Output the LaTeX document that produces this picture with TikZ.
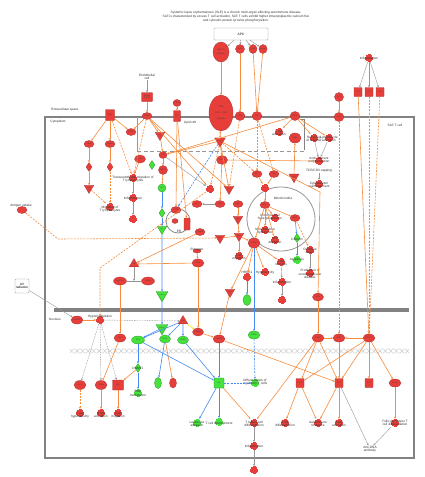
\documentclass[tikz,border=0pt]{standalone}
\usepackage{fontspec}
\setmainfont{Liberation Sans}
\usetikzlibrary{shapes.geometric,arrows.meta,calc}
\definecolor{nred}{RGB}{232,62,58}
\definecolor{nredd}{RGB}{165,50,50}
\definecolor{ngreen}{RGB}{70,225,60}
\definecolor{ngreend}{RGB}{40,150,40}
\definecolor{eor}{RGB}{246,140,60}
\definecolor{eblue}{RGB}{70,140,240}
\definecolor{egray}{RGB}{150,150,150}
\definecolor{mgray}{RGB}{130,130,130}
\begin{document}
\begin{tikzpicture}[x=1pt,y=-1pt,
  nbase/.style={inner sep=0, font=\fontsize{1.9}{2.1}\selectfont, text=black!75, line width=0.3pt, align=center},
  ell/.style={nbase, ellipse, fill=nred, draw=nredd, minimum width=10pt, minimum height=7pt},
  gell/.style={ell, fill=ngreen, draw=ngreend},
  sq/.style={nbase, rectangle, rounded corners=0.6pt, fill=nred, draw=nredd, minimum width=8pt, minimum height=9pt},
  gsq/.style={sq, fill=ngreen, draw=ngreend},
  itri/.style={nbase, font=\fontsize{1.4}{1.6}\selectfont, regular polygon, regular polygon sides=3, shape border rotate=180, fill=nred, draw=nredd, minimum size=11pt},
  gitri/.style={itri, fill=ngreen, draw=ngreend},
  tri/.style={nbase, font=\fontsize{1.4}{1.6}\selectfont, regular polygon, regular polygon sides=3, fill=nred, draw=nredd, minimum size=11pt},
  dia/.style={nbase, diamond, fill=nred, draw=nredd, minimum width=6pt, minimum height=9pt},
  gdia/.style={dia, fill=ngreen, draw=ngreend},
  gcirc/.style={nbase, circle, fill=ngreen, draw=ngreend, minimum size=8pt},
  fnshape/.style={path picture={
     \fill[#1] ([shift={(-1.5pt,-4pt)}]path picture bounding box.center) rectangle ([shift={(1.5pt,4pt)}]path picture bounding box.center);
     \fill[#1] ([shift={(-4pt,-1.5pt)}]path picture bounding box.center) rectangle ([shift={(4pt,1.5pt)}]path picture bounding box.center);
     \fill[#1] ([shift={(-2.6pt,-2.6pt)}]path picture bounding box.center) rectangle ([shift={(2.6pt,2.6pt)}]path picture bounding box.center);}},
  fn/.style={nbase, minimum size=8pt, fnshape=nred},
  fng/.style={nbase, minimum size=8pt, fnshape=ngreen},
  lab/.style={inner sep=0, font=\fontsize{3.2}{3.6}\selectfont, text=black!80, align=center},
  pbox/.style={draw=egray, fill=white, line width=0.4pt, rounded corners=0.8pt, font=\fontsize{3.2}{3.6}\selectfont, align=center, inner sep=0},
  tip/.style={-{Stealth[length=2.2pt,width=2pt]}},
  oa/.style={draw=eor, line width=0.6pt, tip},
  od/.style={oa, dash pattern=on 2pt off 1.2pt},
  ba/.style={draw=eblue, line width=0.6pt, tip},
  bd/.style={ba, dash pattern=on 2pt off 1.2pt},
  ga/.style={draw=egray, line width=0.4pt, tip},
  gd/.style={ga, dash pattern=on 1.5pt off 1pt}
]
\fill[white] (0,0) rectangle (424,477);
\useasboundingbox (0,0) rectangle (424,477);

% ---------- title ----------
\node[lab, font=\fontsize{3.2}{4.1}\selectfont] (title) at (236,17) {Systemic lupus erythematosus (SLE) is a chronic multi-organ affecting autoimmune disease.\\SLE is characterized by excess T cell activation, SLE T cells exhibit higher intracytoplasmic calcium flux\\and cytosolic protein tyrosine phosphorylation.};

% ---------- compartments ----------
\draw[mgray, line width=1.2pt] (45,117) rectangle (414,458);
\draw[egray, line width=0.8pt] (137,117) -- (137,151);
\draw[egray, line width=1pt, dash pattern=on 4pt off 2.5pt] (137,151) -- (304,151);
\draw[mgray, line width=0.5pt] (300,119) -- (304,119) -- (304,150);
\fill[mgray] (54,308) rectangle (409,312);
\draw[egray, line width=0.8pt] (281,219) ellipse [x radius=34, y radius=32];
\draw[mgray, line width=0.7pt] (178,221) circle [radius=12];
\draw[black!20, line width=0.5pt, domain=70:409, samples=500] plot (\x, {351+2.2*sin(32.7*\x)});
\draw[black!20, line width=0.5pt, domain=70:409, samples=500] plot (\x, {351-2.2*sin(32.7*\x)});

\node[lab] (Lext) at (65,110) {Extracellular space};
\node[lab] (Lcyt) at (58,122) {Cytoplasm};
\node[lab] (Lraft) at (190,123) {Lipid raft};
\node[lab] (Lsle) at (395,125) {SLE T cell};
\node[lab] (Lnuc) at (55,319) {Nucleus};
\node[lab] (Lmito) at (283,198) {Mitochondria};
\node[lab] (Ler) at (179,231) {ER};

% ---------- extracellular ----------
\node[pbox, minimum width=54pt, minimum height=12pt] (apc) at (241,34) {APC};
\node[ell, minimum width=16pt, minimum height=20pt, font=\fontsize{2.2}{2.6}\selectfont] (mhc) at (221,52) {MHC II\\[2pt]Antigen};
\node[ell, minimum width=9pt, minimum height=9pt] (a2) at (240,49) {CD80};
\node[ell, minimum width=8pt, minimum height=9pt] (a3) at (253,49) {CD58};
\node[ell, minimum width=8pt, minimum height=9pt] (a4) at (263,49) {ICAM1};
\node[lab] (endo) at (147,77) {Endothelial\\cell};
\node[sq, minimum width=11pt, minimum height=9pt] (e1) at (147,97) {ICAM1\\ICAM2};
\node[ell, minimum width=8pt, minimum height=7pt] (m3) at (177,103) {CD58};
\node[ell, minimum width=9pt, minimum height=9pt] (m8a) at (339,97) {IL2};
\node[fn] (infl1) at (369,58) {};
\node[lab] (Linfl1) at (369,58) {Inflammation};
\node[sq] (c1) at (358,92) {IL6};
\node[sq] (c2) at (369,92) {IL21};
\node[sq] (c3) at (380,92) {IL23};

% ---------- membrane ----------
\node[sq, minimum width=9pt, minimum height=11pt] (m1) at (110,115) {ITGAL};
\node[ell] (m2) at (147,116) {ITGB2};
\node[sq, minimum width=7pt, minimum height=11pt] (m4) at (177,116) {CD2};
\node[ell, minimum width=24pt, minimum height=36pt, font=\fontsize{2.3}{2.8}\selectfont] (tcr) at (221,113) {TCR\\[3pt]CD3\quad CD4\\[3pt]complex};
\node[ell, minimum height=9pt] (m5) at (240,116) {CD28};
\node[ell, minimum height=9pt] (m6) at (257,116) {CD2};
\node[ell, minimum height=9pt] (m7) at (295,116) {CD44};
\node[ell, minimum height=9pt] (m8) at (339,117) {IL2R};

% ---------- lipid raft / upper cytoplasm ----------
\node[ell] (p6) at (131,132) {ROCK};
\node[itri] (p10) at (160,135) {SYK};
\node[itri, minimum size=12pt] (tcrt) at (220,141) {CD247};
\node[fn] (lr1) at (279,132) {};
\node[lab] (Llr1) at (279,133) {T cell\\activation};
\node[ell, minimum width=12pt, minimum height=10pt] (lr2) at (295,138) {RAB4};
\node[fn] (lr3) at (314,138) {};
\node[lab] (Llr3) at (314,139) {Recycling\\of receptor};
\node[fn] (lr4) at (329,138) {};
\node[lab] (Llr4) at (329,139) {Lymphocyte\\activation};

\node[ell] (p1) at (89,144) {CD44};
\node[dia] (p2) at (89,167) {};
\node[itri] (p3) at (89,188) {PI3K};
\node[ell] (p4) at (110,144) {RHOA};
\node[dia] (p5) at (110,167) {};
\node[fn] (mig) at (110,207) {};
\node[lab] (Lmig) at (110,209) {Migration of\\T lymphocytes};
\node[ell, minimum width=11pt, minimum height=8pt] (p7) at (140,159) {PRKCD};
\node[gdia] (gd1) at (152,165) {};
\node[ell, minimum width=8pt] (p8) at (163,155) {LCK};
\node[ell, minimum width=9pt, minimum height=9pt] (p9) at (163,170) {ZAP70};
\node[gcirc] (gc1) at (162,188) {LAT};
\node[gdia] (gd2) at (162,213) {};
\node[gitri] (git1) at (162,229) {RAS};
\node[fn] (trans) at (133,178) {};
\node[lab] (Ltrans) at (133,179) {Transendothelial migration of\\T lymphocytes};
\node[fn] (infl2) at (133,198) {};
\node[lab] (Linfl2) at (133,198) {Inflammation};
\node[fn] (x1) at (133,219) {};

\node[ell, minimum width=11pt, minimum height=9pt] (ep) at (222,160) {PLCG1};
\node[fn] (fx) at (210,189) {};
\node[itri] (i1) at (229,189) {PI3K};
\node[ell] (e7) at (257,174) {AKT};
\node[ell] (e8) at (274,174) {PDK1};
\node[fn] (ab) at (265,188) {};
\node[fn] (act) at (319,161) {};
\node[lab] (Lact) at (319,160) {Actin filament\\polymerization};
\node[lab] (cap) at (319,171) {TCR/CD3 capping};
\node[fn] (cyt) at (319,184) {};
\node[lab] (Lcyt2) at (319,185) {Cytoskeleton\\rearrangement};
\node[itri] (lr5) at (294,177) {ROCK};

% ---------- ER / middle ----------
\node[ell] (e1a) at (176,210) {ITPR};
\node[ell, minimum width=6pt, minimum height=5pt] (e2) at (175,221) {};
\node[sq, minimum width=6pt, minimum height=12pt] (e3) at (187,224) {};
\node[ell] (e4) at (200,232) {CAMK4};
\node[ell] (r1) at (197,204) {AKT};
\node[ell] (r3) at (220,204) {RAS};
\node[ell] (r4) at (238,204) {RAF};
\node[itri] (i2) at (238,219) {MEK};
\node[itri] (i3) at (239,236) {ERK};
\node[fn] (mig2) at (239,256) {};
\node[lab] (Lmig2) at (239,257) {Cell\\migration};
\node[itri] (pk1) at (220,238) {PKC};
\node[ell, minimum width=12pt, minimum height=10pt] (mt) at (254,243) {mTOR};
\node[ell] (ant) at (22,210) {};
\node[lab] (Lant) at (21,206) {Antigen uptake};
\node[ell, minimum width=8pt, minimum height=4pt] (est) at (197,251) {};
\node[lab] (Lest) at (197,250) {Estrogen};
\node[ell, minimum width=12pt, minimum height=8pt] (es2) at (198,263) {ESR1};
\node[tri] (pp1) at (134,264) {PP2A};
\node[ell, minimum width=13pt, minimum height=8pt] (q1) at (120,281) {RASGRP1};
\node[ell, minimum width=13pt, minimum height=8pt] (q2) at (148,281) {CREM};
\coordinate (k4) at (134,281);
\node[gitri] (erk1) at (162,295) {ERK1/2};
\node[itri] (i4) at (230,292) {MEK};
\node[fn] (x7) at (247,277) {};
\node[lab] (Lx7) at (247,272) {HRES1};
\node[gell, minimum width=8pt, minimum height=11pt] (gx) at (247,300) {};

% mitochondria
\node[ell] (mt1) at (265,205) {BCL2};
\node[fn] (mh) at (275,218) {};
\node[lab] (Lmh) at (270,217) {Mitochondrial\\hyperpolarization};
\node[fn] (mh2) at (265,230) {};
\node[lab] (Lmh2) at (265,231) {Mitochondrial\\dysfunction};
\node[fn] (mh3) at (275,240) {};
\node[lab] (Lmh3) at (275,241) {ATP\\depletion};
\node[ell] (mp) at (295,218) {NOX};
\node[gdia] (ca) at (297,238) {};
\node[lab] (Lca) at (297,239) {Calcium};
\node[fng] (apo) at (297,260) {};
\node[lab] (Lapo) at (297,260) {Apoptosis};
\node[fn] (ox) at (310,250) {};
\node[lab] (Lox) at (310,251) {Oxidative\\stress};
\node[fn] (prod) at (310,273) {};
\node[lab] (Lprod) at (310,274) {Production of\\cerebrovascular\\disease};
\node[fn] (nec) at (281,262) {};
\node[lab] (Lnec) at (281,263) {T cell\\necrosis};
\node[fn] (hyp) at (265,272) {};
\node[lab] (Lhyp) at (265,273) {Hyperactivity};
\node[fn] (infl4) at (282,282) {};
\node[lab] (Linfl4) at (282,282) {Inflammation};
\node[fn] (fx4) at (282,300) {};
\node[ell, minimum width=11pt, minimum height=8pt] (u1) at (318,297) {IRF4};
\coordinate (k1) at (320,192);

% ---------- nucleus ----------
\node[pbox, minimum width=14pt, minimum height=14pt] (uv) at (22,286) {UV\\radiation};
\node[ell, minimum width=12pt, minimum height=8pt] (dm) at (77,320) {GADD45};
\node[fn] (hm) at (100,320) {};
\node[lab] (Lhm) at (100,317) {Hypomethylation};
\node[tri] (pp2) at (183,321) {PP2A};
\node[gitri] (erk2) at (162,328) {ERK1/2};
\node[ell, minimum width=12pt, minimum height=8pt] (q3) at (120,338) {SP1};
\node[gell, minimum width=13pt, minimum height=8pt] (ap1) at (138,340) {AP-1};
\node[gell, minimum width=11pt, minimum height=8pt] (elf) at (165,339) {ELF1};
\node[gell, minimum width=11pt, minimum height=8pt] (creb) at (183,340) {CREB};
\node[ell, minimum width=11pt, minimum height=8pt] (cd1) at (198,332) {CREMα};
\node[ell, minimum width=12pt, minimum height=8pt] (cd2) at (219,339) {NFATC2};
\node[gell, minimum width=12pt, minimum height=8pt] (crem) at (254,335) {CREM};
\node[ell, minimum width=12pt, minimum height=8pt] (n1) at (318,338) {RORC};
\node[ell, minimum width=12pt, minimum height=8pt] (n2) at (339,338) {IRF4};
\node[ell, minimum width=12pt, minimum height=8pt] (stat3) at (369,338) {STAT3};
\node[gdia] (dnmt) at (138,368) {};
\node[lab] (Ldnmt) at (138,368) {DNMT1};
\node[fng] (dm2) at (138,393) {};
\node[lab] (Ldm2) at (138,394) {DNA\\methylation};
\node[gell, minimum width=7pt, minimum height=11pt] (g1) at (158,383) {};
\node[ell, minimum width=7pt, minimum height=10pt] (g2) at (173,383) {};
\node[ell, minimum width=12pt, minimum height=9pt] (b1) at (80,385) {CD70};
\node[ell, minimum width=12pt, minimum height=9pt] (b2) at (101,385) {CD11a};
\node[sq, minimum width=11pt, minimum height=10pt] (b3) at (118,385) {KIR};
\node[fn] (f1) at (80,413) {};
\node[lab] (Lf1) at (80,415) {T cell\\hyperactivity};
\node[fn] (f2) at (101,413) {};
\node[lab] (Lf2) at (101,415) {B cell\\activation};
\node[fn] (f3) at (118,413) {};
\node[lab] (Lf3) at (118,415) {Cell\\migration};
\node[gsq, minimum width=10pt, minimum height=10pt] (il2) at (219,383) {IL2};
\node[fng] (lk) at (197,423) {};
\node[lab] (Llk) at (197,424) {Leukocyte\\adhesion};
\node[fng] (tdev) at (219,422) {};
\node[lab] (Ltdev) at (219,424) {T cell development};
\node[fng] (treg) at (255,383) {};
\node[lab] (Ltreg) at (255,382) {Differentiation of\\regulatory T cells};
\node[fn] (th) at (254,423) {};
\node[lab] (Lth) at (254,424) {T helper cell\\differentiation};
\node[fn] (infl3) at (254,446) {};
\node[lab] (Linfl3) at (254,446) {Inflammation};
\node[fn] (fx2) at (254,470) {};
\node[sq] (s1) at (300,383) {IL17A};
\node[sq] (s2) at (339,383) {IL21};
\node[sq] (s3) at (369,383) {IL10};
\node[ell, minimum width=12pt, minimum height=8pt] (s4) at (395,383) {BCL6};
\node[fn] (bdiff) at (285,423) {};
\node[lab] (Lbdiff) at (285,424) {B cell\\differentiation};
\node[fn] (auto) at (318,423) {};
\node[lab] (Lauto) at (318,424) {Autoimmune\\response};
\node[fn] (bact) at (339,423) {};
\node[lab] (Lbact) at (339,424) {B cell\\activation};
\node[fn] (tfh) at (395,423) {};
\node[lab] (Ltfh) at (395,423) {Follicular helper T\\cell differentiation};
\node[lab] (anti) at (370,449) {Anti-DNA\\antibody};
\coordinate (k2) at (58,239);
\coordinate (k3) at (100,268);

% ---------- edges ----------
\draw[ga] (apc) -- (mhc);
\draw[ga] (apc) -- (a2);
\draw[ga] (apc) -- (a3);
\draw[ga] (apc) -- (a4);
\draw[oa] (mhc) -- (tcr);
\draw[oa] (a2) -- (m5);
\draw[oa] (a3) -- (m6);
\draw[oa] (a4) -- (m6);
\draw[ga] (endo) -- (e1);
\draw[oa] (e1) -- (m2);
\draw[oa] (m3) -- (m4);
\draw[oa] (m8a) -- (m8);
\draw[ga] (infl1) -- (c1);
\draw[ga] (infl1) -- (c2);
\draw[ga] (infl1) -- (c3);
\draw[oa] (c1) -- (stat3);
\draw[od] (c2) -- (stat3);
\draw[od] (c3) -- (stat3);
\draw[od] (m8) -- (n2);

\draw[oa] (m1) -- (p1);
\draw[oa] (m1) -- (p4);
\draw[oa] (m1) -- (p6);
\draw[od] (m1) -- (trans);
\draw[oa] (p1) -- (p2);
\draw[oa] (p2) -- (p3);
\draw[od] (p3) -- (mig);
\draw[oa] (p4) -- (p5);
\draw[od] (p5) -- (mig);
\draw[oa] (m2) -- (p6);
\draw[oa] (m2) -- (p10);
\draw[od] (m2) -- (trans);
\draw[oa] (m2) -- (fx);
\draw[oa] (m2) -- (i1);
\draw[oa] (p7) -- (trans);
\draw[ga] (trans) -- (infl2);
\draw[ga] (infl2) -- (x1);
\draw[oa] (m4) -- (e1a);
\draw[oa] (m4) -- (e3);
\draw[oa, {Stealth[length=2.2pt,width=2pt]}-{Stealth[length=2.2pt,width=2pt]}] (tcr) -- (tcrt);
\draw[oa] (tcrt) -- (p8);
\draw[oa] (tcrt) -- (ep);
\draw[oa] (tcrt) -- (k1) -- (u1);
\draw[od] (tcrt) -- (fx);
\draw[oa] (tcrt) -- (i1);
\draw[od] (tcrt) -- (e7);
\draw[bd] (tcrt) -- (e1a);
\draw[oa] (p10) -- (p8);
\draw[oa] (m7) -- (p8);
\draw[oa] (p8) -- (p9);
\draw[ga] (p8) -- (fx);
\draw[oa] (p9) -- (gc1);
\draw[ba] (gc1) -- (gd2);
\draw[ba] (gd2) -- (git1);
\draw[ba] (git1) -- (erk1);
\draw[ba] (erk1) -- (erk2);
\draw[od] (m5) -- (i1);
\draw[od] (m6) -- (e7);
\draw[od] (m6) -- (e8);
\draw[oa] (e7) -- (ab);
\draw[oa] (e8) -- (ab);
\draw[oa] (ab) -- (mt1);
\draw[oa] (ep) -- (act);
\draw[oa] (ep) -- (r3);
\draw[oa] (m7) -- (lr1);
\draw[oa] (m7) -- (lr3);
\draw[oa] (m7) -- (lr4);
\draw[oa] (lr5) -- (lr2);
\draw[ga] (lr3) -- (act);
\draw[ga] (lr4) -- (act);
\draw[ga] (cap) -- (cyt);
\draw[ga] (r3) -- (r1);
\draw[oa] (r4) -- (i2);
\draw[oa] (i2) -- (i3);
\draw[oa] (i3) -- (mig2);
\draw[oa] (pk1) -- (i3);
\draw[oa] (i3) -- (mt);
\draw[od] (ant) -- (k2) -- (pk1);
\draw[od] (fx) -- (k3) -- (hm);
\draw[oa] (e4) -- (pp1);
\draw[oa] (es2) -- (pp1);
\draw[oa] (est) -- (es2);
\draw[ga] (pp1) -- (k4);
\draw[draw=egray, line width=0.4pt] (q1) -- (q2);
\draw[oa] (q1) -- (q3);
\draw[oa] (es2) -- (cd1);
\draw[oa] (mt1) -- (mh);
\draw[oa] (mt1) -- (mh2);
\draw[oa] (mt1) -- (mh3);
\draw[oa] (mt1) -- (mp);
\draw[oa] (mt1) -- (mt);
\draw[ba] (mp) -- (ca);
\draw[ba] (ca) -- (apo);
\draw[od] (mp) -- (ox);
\draw[ga] (ox) -- (prod);
\draw[oa] (mt) -- (nec);
\draw[oa] (mt) -- (hyp);
\draw[oa] (mt) -- (x7);
\draw[oa] (mt) -- (i4);
\draw[ga] (nec) -- (infl4);
\draw[ga] (infl4) -- (fx4);
\draw[ba] (x7) -- (gx);
\draw[ba] (mt) -- (crem);
\draw[oa] (i4) -- (cd2);
\draw[oa] (u1) -- (n1);

\draw[ga] (uv) -- (dm);
\draw[oa] (dm) -- (hm);
\draw[gd] (hm) -- (pp2);
\draw[gd] (hm) -- (b1);
\draw[gd] (hm) -- (b2);
\draw[gd] (hm) -- (b3);
\draw[oa] (q3) -- (b2);
\draw[oa] (dnmt) -- (b3);
\draw[od] (b1) -- (f1);
\draw[oa] (b2) -- (f2);
\draw[oa] (b3) -- (f3);
\draw[ba] (erk2) -- (ap1);
\draw[ba] (pp2) -- (elf);
\draw[ba] (pp2) -- (creb);
\draw[ba] (pp2) -- (ap1);
\draw[draw=yellow!85!orange, line width=0.6pt, tip] (pp2) -- (cd1);
\draw[oa] (cd1) -- (cd2);
\draw[ba] (ap1) -- (dnmt);
\draw[ba] (dnmt) -- (dm2);
\draw[ba] (elf) -- (g1);
\draw[oa] (elf) -- (g2);
\draw[ba] (ap1) -- (il2);
\draw[ba] (creb) -- (il2);
\draw[ba] (cd2) -- (il2);
\draw[ba] (il2) -- (lk);
\draw[ba] (il2) -- (tdev);
\draw[bd] (il2) -- (treg);
\draw[bd] (crem) -- (treg);
\draw[oa] (il2) -- (th);
\draw[oa] (cd2) -- (s2);
\draw[ga] (th) -- (infl3);
\draw[ga] (infl3) -- (fx2);
\draw[oa] (n1) -- (n2);
\draw[oa] (stat3) -- (n2);
\draw[oa] (n1) -- (s1);
\draw[oa] (n1) -- (th);
\draw[oa] (n1) -- (s2);
\draw[oa] (n2) -- (s2);
\draw[oa] (stat3) -- (s1);
\draw[oa] (stat3) -- (s2);
\draw[oa] (stat3) -- (s3);
\draw[oa] (stat3) -- (s4);
\draw[oa] (s1) -- (bdiff);
\draw[oa] (s1) -- (auto);
\draw[oa] (s2) -- (auto);
\draw[oa] (s2) -- (bact);
\draw[oa] (s4) -- (tfh);
\draw[ga] (s2) -- (anti);
\draw[ga] (tfh) -- (anti);
\end{tikzpicture}
\end{document}
